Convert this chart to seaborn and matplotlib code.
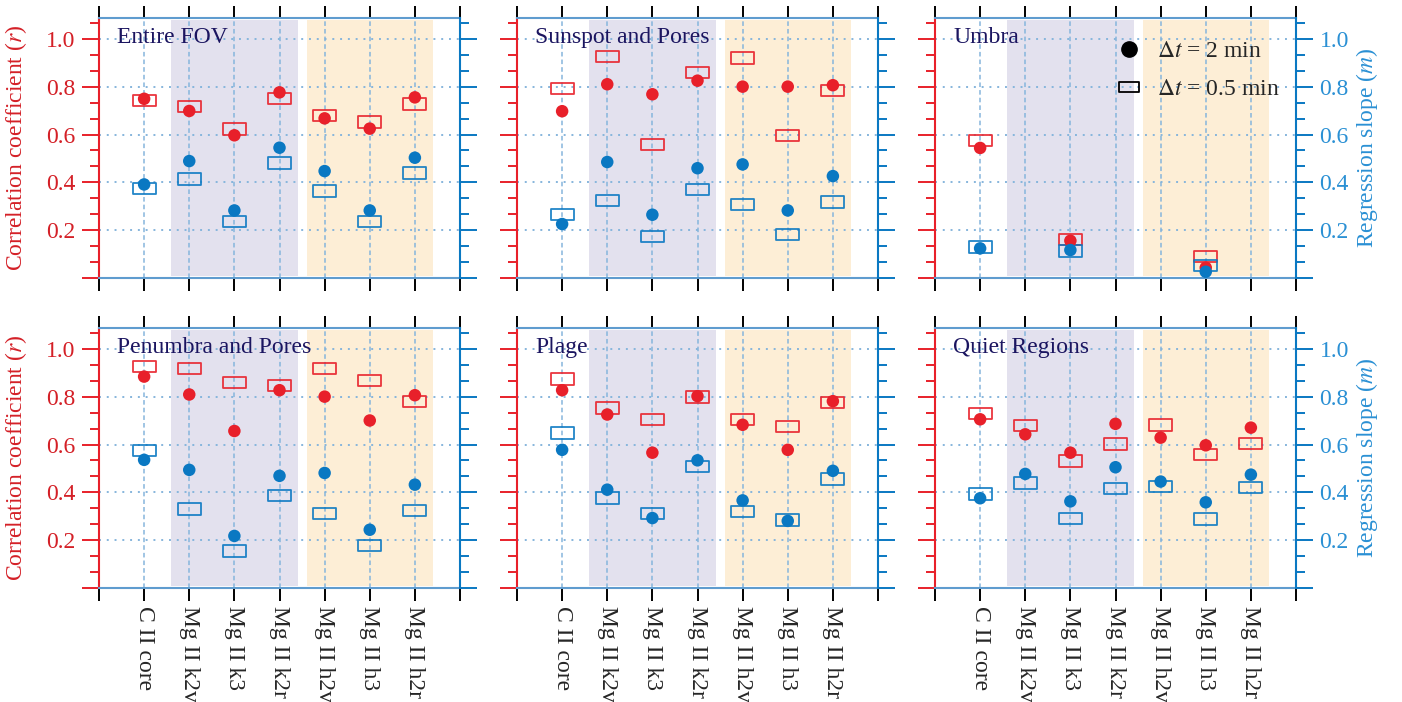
import numpy as np
import pandas as pd
import matplotlib
matplotlib.use("Agg")
import matplotlib.pyplot as plt
import seaborn as sns
from matplotlib.path import Path
from matplotlib.lines import Line2D
from matplotlib.ticker import MultipleLocator, FixedLocator, FuncFormatter

# ---------------- data ----------------
categories = ["C II core", "Mg II k2v", "Mg II k3", "Mg II k2r",
              "Mg II h2v", "Mg II h3", "Mg II h2r"]
panel_titles = ["Entire FOV", "Sunspot and Pores", "Umbra",
                "Penumbra and Pores", "Plage", "Quiet Regions"]
legend_labels = [r"$\Delta t$ = 2 min", r"$\Delta t$ = 0.5 min"]
nan = np.nan

# correlation coefficient r (dt = 2 min, filled circles)
r_2min_fov = [0.750, 0.699, 0.597, 0.777, 0.668, 0.625, 0.756]
r_2min_spot = [0.698, 0.811, 0.769, 0.826, 0.801, 0.801, 0.807]
r_2min_umbra = [0.544, nan, 0.155, nan, nan, 0.042, nan]
r_2min_penumbra = [0.885, 0.810, 0.657, 0.828, 0.801, 0.701, 0.807]
r_2min_plage = [0.828, 0.726, 0.566, 0.803, 0.683, 0.578, 0.782]
r_2min_quiet = [0.706, 0.643, 0.566, 0.687, 0.629, 0.597, 0.671]

# correlation coefficient r (dt = 0.5 min, open rectangles)
r_05min_fov = [0.742, 0.718, 0.624, 0.752, 0.680, 0.652, 0.728]
r_05min_spot = [0.794, 0.927, 0.558, 0.861, 0.921, 0.596, 0.785]
r_05min_umbra = [0.576, nan, 0.161, nan, nan, 0.088, nan]
r_05min_penumbra = [0.927, 0.919, 0.861, 0.848, 0.920, 0.868, 0.780]
r_05min_plage = [0.874, 0.754, 0.706, 0.799, 0.706, 0.676, 0.777]
r_05min_quiet = [0.731, 0.681, 0.531, 0.603, 0.683, 0.559, 0.605]

# regression slope m (dt = 2 min, filled circles)
m_2min_fov = [0.391, 0.489, 0.282, 0.545, 0.447, 0.282, 0.503]
m_2min_spot = [0.225, 0.485, 0.264, 0.459, 0.475, 0.282, 0.426]
m_2min_umbra = [0.123, nan, 0.116, nan, nan, 0.025, nan]
m_2min_penumbra = [0.536, 0.494, 0.217, 0.469, 0.481, 0.243, 0.432]
m_2min_plage = [0.578, 0.411, 0.292, 0.534, 0.366, 0.280, 0.490]
m_2min_quiet = [0.375, 0.477, 0.362, 0.505, 0.445, 0.358, 0.474]

# regression slope m (dt = 0.5 min, open rectangles)
m_05min_fov = [0.375, 0.414, 0.236, 0.480, 0.364, 0.235, 0.438]
m_05min_spot = [0.266, 0.324, 0.172, 0.370, 0.308, 0.182, 0.317]
m_05min_umbra = [0.129, nan, 0.112, nan, nan, 0.052, nan]
m_05min_penumbra = [0.576, 0.329, 0.154, 0.386, 0.312, 0.176, 0.323]
m_05min_plage = [0.649, 0.376, 0.312, 0.508, 0.320, 0.284, 0.455]
m_05min_quiet = [0.392, 0.438, 0.291, 0.416, 0.425, 0.288, 0.421]

panels = [
    (r_2min_fov, r_05min_fov, m_2min_fov, m_05min_fov),
    (r_2min_spot, r_05min_spot, m_2min_spot, m_05min_spot),
    (r_2min_umbra, r_05min_umbra, m_2min_umbra, m_05min_umbra),
    (r_2min_penumbra, r_05min_penumbra, m_2min_penumbra, m_05min_penumbra),
    (r_2min_plage, r_05min_plage, m_2min_plage, m_05min_plage),
    (r_2min_quiet, r_05min_quiet, m_2min_quiet, m_05min_quiet),
]

# ---------------- style ----------------
sns.set_style("white")
plt.rcParams["font.family"] = ["Liberation Serif", "DejaVu Serif"]
plt.rcParams["mathtext.fontset"] = "stix"

RED = "#e8202a"
RED_TXT = "#d42027"
BLUE = "#0a78c2"
BLUE_TXT = "#2a90d4"
FRAME = "#5f9ccf"
GRID = "#86b5dc"
PURPLE = "#e3e1ee"
ORANGE = "#fdeed6"
NAVY = "#1b1560"
FS = 17

rect_marker = Path([(-1, -0.5), (1, -0.5), (1, 0.5), (-1, 0.5), (-1, -0.5)],
                   [Path.MOVETO, Path.LINETO, Path.LINETO, Path.LINETO, Path.CLOSEPOLY])

W, H = 1402, 702
fig = plt.figure(figsize=(W / 100, H / 100), dpi=100)

lefts = [99, 517, 935]
tops = [17.7, 327.7]
aw, ah = 361, 260
ymax = 1.09

x = np.arange(1, len(categories) + 1)

for i, (title, vals) in enumerate(zip(panel_titles, panels)):
    row, col = divmod(i, 3)
    ax = fig.add_axes([lefts[col] / W, (H - tops[row] - ah) / H, aw / W, ah / H])
    r2, r05, m2, m05 = vals
    df = pd.DataFrame({"x": x, "r2": r2, "r05": r05, "m2": m2, "m05": m05})

    ax.axvspan(1.6, 4.4, ymin=0.008, ymax=0.99, color=PURPLE, lw=0, zorder=0)
    ax.axvspan(4.6, 7.4, ymin=0.008, ymax=0.99, color=ORANGE, lw=0, zorder=0)

    sns.scatterplot(data=df, x="x", y="r05", ax=ax, marker=rect_marker, s=16.5 ** 2,
                    facecolor="none", edgecolor=RED, linewidth=1.3, alpha=0.9, zorder=3)
    sns.scatterplot(data=df, x="x", y="m05", ax=ax, marker=rect_marker, s=16.5 ** 2,
                    facecolor="none", edgecolor=BLUE, linewidth=1.3, alpha=0.9, zorder=3)
    sns.scatterplot(data=df, x="x", y="r2", ax=ax, marker="o", s=9 ** 2,
                    color=RED, edgecolor="none", zorder=4)
    sns.scatterplot(data=df, x="x", y="m2", ax=ax, marker="o", s=9 ** 2,
                    color=BLUE, edgecolor="none", zorder=5)

    ax.set_xlim(0, len(categories) + 1)
    ax.set_ylim(0, ymax)
    ax.set_xlabel("")
    ax.set_ylabel("")

    # grid
    ax.set_axisbelow(True)
    ax.xaxis.set_major_locator(FixedLocator(np.arange(0, len(categories) + 2)))
    ax.yaxis.set_major_locator(FixedLocator([0, 0.2, 0.4, 0.6, 0.8, 1.0]))
    ax.yaxis.set_minor_locator(MultipleLocator(0.2 / 3))
    ax.grid(axis="x", color=GRID, lw=1.1, ls=(0, (3, 2)))
    ax.grid(axis="y", color=GRID, lw=1.4, ls=(0, (1, 3)))

    # x ticks
    ax.tick_params(axis="x", which="major", top=True, bottom=True, direction="out",
                   length=9, width=1.4, color="black", labelsize=FS, pad=4)
    if row == 1:
        ax.set_xticks(np.arange(0, len(categories) + 2),
                      [""] + categories + [""], rotation=270, fontsize=FS)
    else:
        ax.set_xticklabels([])

    # left axis
    ax.tick_params(axis="y", which="major", left=True, right=False, direction="out",
                   length=12, width=1.4, color=RED, labelcolor=RED_TXT, labelsize=FS, pad=5)
    ax.tick_params(axis="y", which="minor", left=True, right=False, direction="out",
                   length=6.5, width=1.4, color=RED)
    ax.yaxis.set_major_formatter(FuncFormatter(lambda v, p: "" if v == 0 else f"{v:.1f}"))
    if col != 0:
        ax.set_yticklabels([])
    else:
        ax.set_ylabel("Correlation coefficient ($r$)", color=RED_TXT, fontsize=FS)
        ax.yaxis.set_label_coords(-0.195, 0.5)

    for s in ["top", "bottom"]:
        ax.spines[s].set_color(FRAME)
        ax.spines[s].set_linewidth(1.5)
    ax.spines["left"].set_color(RED)
    ax.spines["left"].set_linewidth(1.5)
    ax.spines["right"].set_visible(False)

    # right axis (regression slope, same scale)
    ax2 = ax.twinx()
    ax2.set_ylim(0, ymax)
    ax2.yaxis.set_major_locator(FixedLocator([0, 0.2, 0.4, 0.6, 0.8, 1.0]))
    ax2.yaxis.set_minor_locator(MultipleLocator(0.2 / 3))
    ax2.tick_params(axis="y", which="major", direction="out", length=12, width=1.4,
                    color=BLUE, labelcolor=BLUE_TXT, labelsize=FS, pad=5)
    ax2.tick_params(axis="y", which="minor", direction="out", length=6.5, width=1.4,
                    color=BLUE)
    ax2.yaxis.set_major_formatter(FuncFormatter(lambda v, p: "" if v == 0 else f"{v:.1f}"))
    for s in ["top", "bottom", "left"]:
        ax2.spines[s].set_visible(False)
    ax2.spines["right"].set_color(BLUE)
    ax2.spines["right"].set_linewidth(1.5)
    if col != 2:
        ax2.set_yticklabels([])
    else:
        ax2.set_ylabel("Regression slope ($m$)", color=BLUE_TXT, fontsize=FS)
        ax2.yaxis.set_label_coords(1.16, 0.5)

    ax.text(0.05, 0.965, title, transform=ax.transAxes, ha="left", va="top",
            fontsize=FS, color=NAVY, zorder=6)

    if i == 2:
        handles = [
            Line2D([], [], marker="o", ls="", color="black", ms=11),
            Line2D([], [], marker=rect_marker, ls="", mfc="none", mec="black",
                   mew=1.3, ms=15),
        ]
        leg = ax.legend(handles, legend_labels, loc="upper right",
                        bbox_to_anchor=(1.0, 0.975), frameon=False, fontsize=FS,
                        handlelength=1.0, handletextpad=0.7, labelspacing=0.7,
                        borderaxespad=0.3)
        leg.set_zorder(10)

fig.savefig("out.png", dpi=100)
